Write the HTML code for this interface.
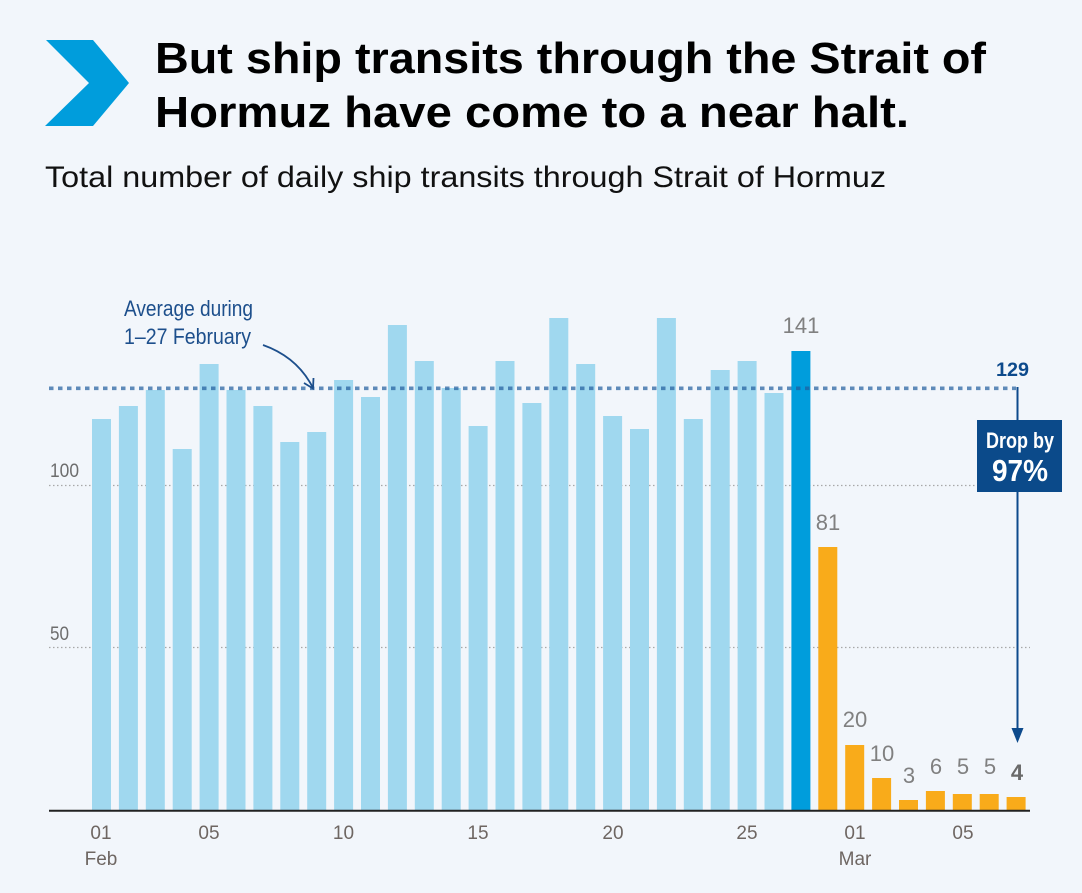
<!DOCTYPE html>
<html><head><meta charset="utf-8"><style>
html,body{margin:0;padding:0;background:#f2f6fb;}
svg{display:block;}
</style></head><body>
<svg width="1082" height="893" viewBox="0 0 1082 893" xmlns="http://www.w3.org/2000/svg" font-family="'Liberation Sans', Arial, sans-serif">
<rect width="1082" height="893" fill="#f2f6fb"/>
<polygon points="46,40 93,40 129,83 93,126 45,126 89,83" fill="#009ddc"/>
<text x="155" y="73" font-size="44" font-weight="bold" fill="#000" textLength="831" lengthAdjust="spacingAndGlyphs">But ship transits through the Strait of</text>
<text x="155" y="127" font-size="44" font-weight="bold" fill="#000" textLength="754" lengthAdjust="spacingAndGlyphs">Hormuz have come to a near halt.</text>
<text x="45" y="187" font-size="29.5" fill="#111" textLength="841" lengthAdjust="spacingAndGlyphs">Total number of daily ship transits through Strait of Hormuz</text>

<!-- gridlines -->
<line x1="49" y1="485.5" x2="1030" y2="485.5" stroke="#a8a8a8" stroke-width="1.3" stroke-dasharray="1.5 2.5"/>
<line x1="49" y1="647.5" x2="1030" y2="647.5" stroke="#a8a8a8" stroke-width="1.3" stroke-dasharray="1.5 2.5"/>
<text x="50" y="477" font-size="19" fill="#6d6d6d" textLength="29" lengthAdjust="spacingAndGlyphs">100</text>
<text x="50" y="640" font-size="19" fill="#6d6d6d" textLength="19" lengthAdjust="spacingAndGlyphs">50</text>

<!-- bars -->
<g fill="#a0d8ef">
<rect x="92.0" y="419" width="19" height="391"/>
<rect x="118.9" y="406" width="19" height="404"/>
<rect x="145.8" y="390" width="19" height="420"/>
<rect x="172.7" y="449" width="19" height="361"/>
<rect x="199.6" y="364" width="19" height="446"/>
<rect x="226.5" y="390" width="19" height="420"/>
<rect x="253.4" y="406" width="19" height="404"/>
<rect x="280.3" y="442" width="19" height="368"/>
<rect x="307.2" y="432" width="19" height="378"/>
<rect x="334.1" y="380" width="19" height="430"/>
<rect x="361.0" y="397" width="19" height="413"/>
<rect x="387.9" y="325" width="19" height="485"/>
<rect x="414.8" y="361" width="19" height="449"/>
<rect x="441.7" y="388" width="19" height="422"/>
<rect x="468.6" y="426" width="19" height="384"/>
<rect x="495.5" y="361" width="19" height="449"/>
<rect x="522.4" y="403" width="19" height="407"/>
<rect x="549.3" y="318" width="19" height="492"/>
<rect x="576.2" y="364" width="19" height="446"/>
<rect x="603.1" y="416" width="19" height="394"/>
<rect x="630.0" y="429" width="19" height="381"/>
<rect x="656.9" y="318" width="19" height="492"/>
<rect x="683.8" y="419" width="19" height="391"/>
<rect x="710.7" y="370" width="19" height="440"/>
<rect x="737.6" y="361" width="19" height="449"/>
<rect x="764.5" y="393" width="19" height="417"/>
</g>
<rect x="791.4" y="351" width="19" height="459" fill="#009ddc"/>
<g fill="#f9ab1a">
<rect x="818.3" y="547" width="19" height="263"/>
<rect x="845.2" y="745" width="19" height="65"/>
<rect x="872.1" y="778" width="19" height="32"/>
<rect x="899.0" y="800" width="19" height="10"/>
<rect x="925.9" y="791" width="19" height="19"/>
<rect x="952.8" y="794" width="19" height="16"/>
<rect x="979.7" y="794" width="19" height="16"/>
<rect x="1006.6" y="797" width="19" height="13"/>
</g>

<!-- average line -->
<line x1="49" y1="388.3" x2="1016" y2="388.3" stroke="#1f5d9c" stroke-opacity="0.7" stroke-width="3.6" stroke-dasharray="4.5 4.5"/>
<line x1="1017.5" y1="387" x2="1017.5" y2="735" stroke="#0d4a8c" stroke-width="2"/>
<polygon points="1011.5,728 1023.5,728 1017.5,743" fill="#0d4a8c"/>
<text x="1012.5" y="376" font-size="19" font-weight="bold" fill="#0d4a8c" text-anchor="middle" textLength="33" lengthAdjust="spacingAndGlyphs">129</text>
<rect x="977" y="420" width="85" height="72" fill="#0b4a8a"/>
<text x="1020" y="448" font-size="22" font-weight="bold" fill="#fff" text-anchor="middle" textLength="68" lengthAdjust="spacingAndGlyphs">Drop by</text>
<text x="1020" y="481" font-size="31" font-weight="bold" fill="#fff" text-anchor="middle" textLength="56" lengthAdjust="spacingAndGlyphs">97%</text>

<!-- annotation -->
<text x="124" y="316" font-size="22" fill="#1d4f8c" textLength="129" lengthAdjust="spacingAndGlyphs">Average during</text>
<text x="124" y="344" font-size="22" fill="#1d4f8c" textLength="127" lengthAdjust="spacingAndGlyphs">1–27 February</text>
<path d="M263,345 Q297,357 312.5,387" fill="none" stroke="#1d4f8c" stroke-width="1.8"/>
<polyline points="304,383 313,388.5 313.5,378" fill="none" stroke="#1d4f8c" stroke-width="1.8"/>

<!-- value labels -->
<g font-size="22" fill="#808080" text-anchor="middle">
<text x="801" y="333">141</text>
<text x="828" y="530">81</text>
<text x="855" y="727">20</text>
<text x="882" y="761">10</text>
<text x="909" y="783">3</text>
<text x="936" y="774">6</text>
<text x="963" y="774">5</text>
<text x="990" y="774">5</text>
<text x="1017" y="780" font-weight="bold" fill="#6a6a6a">4</text>
</g>

<!-- baseline -->
<line x1="49" y1="810.8" x2="1030" y2="810.8" stroke="#222" stroke-width="2"/>

<!-- x labels -->
<g font-size="19" fill="#6e6662" text-anchor="middle">
<text x="101" y="839">01</text>
<text x="209" y="839">05</text>
<text x="343.5" y="839">10</text>
<text x="478" y="839">15</text>
<text x="613" y="839">20</text>
<text x="747" y="839">25</text>
<text x="855" y="839">01</text>
<text x="963" y="839">05</text>
<text x="101" y="865">Feb</text>
<text x="855" y="865">Mar</text>
</g>
</svg>
</body></html>
